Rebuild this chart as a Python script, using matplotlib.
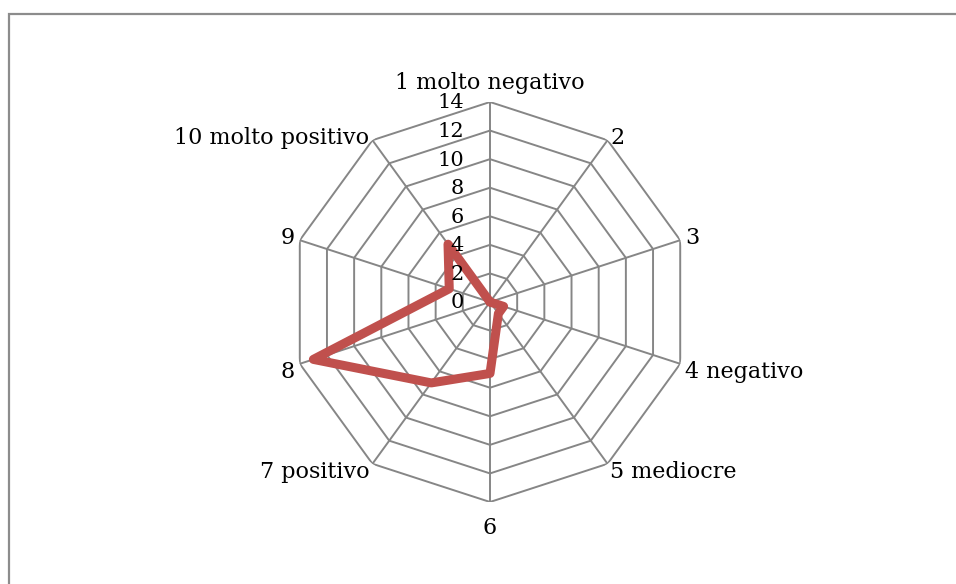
import numpy as np
import matplotlib.pyplot as plt
from matplotlib.patches import Rectangle

categories = ['1 molto negativo', '2', '3', '4 negativo', '5 mediocre',
              '6', '7 positivo', '8', '9', '10 molto positivo']
values = [0, 0, 0, 1, 1, 5, 7, 13, 3, 5]
rings = [2, 4, 6, 8, 10, 12, 14]
tick_labels = ['0', '2', '4', '6', '8', '10', '12', '14']

W, H = 956, 584
cx, cy, R = 490, 302, 200
grid_col = '#868686'
red = '#C0504D'

plt.rcParams['font.family'] = ['DejaVu Serif']

fig = plt.figure(figsize=(W / 100, H / 100), dpi=100)
fig.patch.set_facecolor('white')

# outer frame (only left and top edges visible)
fig.add_artist(Rectangle((8.5 / W, -0.2), 1.5, 1.2 - 13.5 / H,
                         transform=fig.transFigure, fill=False,
                         edgecolor='#8c8c8c', lw=1.6))

ax = fig.add_axes([(cx - R) / W, (H - cy - R) / H, 2 * R / W, 2 * R / H],
                  projection='polar')
ax.set_theta_zero_location('N')
ax.set_theta_direction(-1)
ax.set_ylim(0, 14)
ax.grid(False)
ax.set_xticks([])
ax.set_yticks([])
ax.spines['polar'].set_visible(False)
ax.patch.set_alpha(0)

n = len(categories)
theta = np.arange(n) * 2 * np.pi / n
theta_closed = np.append(theta, theta[0])

# decagon grid
for r in rings:
    ax.plot(theta_closed, [r] * (n + 1), color=grid_col, lw=1.4, zorder=1)
for t in theta:
    ax.plot([t, t], [0, 14], color=grid_col, lw=1.4, zorder=1)

# data
ax.plot(theta_closed, values + values[:1], color=red, lw=6.5,
        solid_joinstyle='round', solid_capstyle='round', zorder=3)

# radial tick labels
for lab in tick_labels:
    ax.annotate(lab, xy=(0, float(lab)), xytext=(-26, -1),
                textcoords='offset pixels', ha='right', va='center',
                fontsize=15, color='black', zorder=4)

# category labels
for t, lab in zip(theta, categories):
    s, c = np.sin(t), np.cos(t)
    if s > 0.1:
        ha = 'left'
    elif s < -0.1:
        ha = 'right'
    else:
        ha = 'center'
    if c > 0.9:
        va, dy = 'bottom', 8
    elif c < -0.9:
        va, dy = 'top', -15
    else:
        va, dy = 'center', 2 if c > 0 else -8
    ax.annotate(lab, xy=(t, 14), xytext=(5 * s, dy),
                textcoords='offset pixels', ha=ha, va=va,
                fontsize=16, color='black', annotation_clip=False)

fig.savefig('out.png', dpi=100)
